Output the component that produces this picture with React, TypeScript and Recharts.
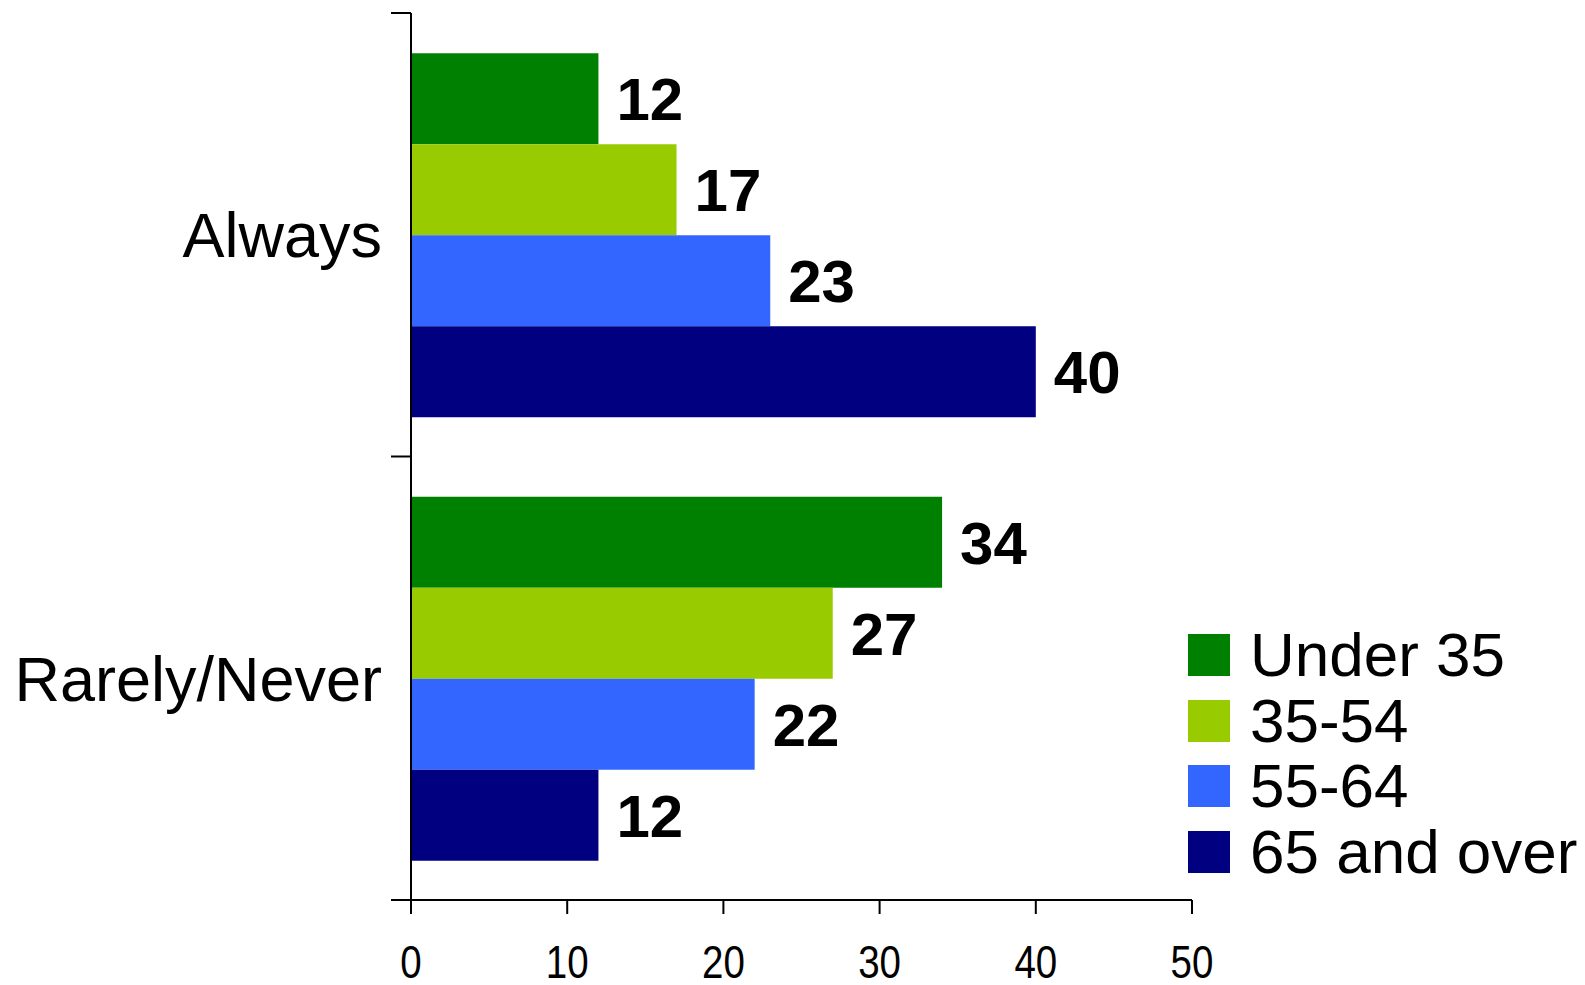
import React from "react";
import { BarChart, Bar, XAxis, YAxis, LabelList } from "recharts";

const categories = ["Always", "Rarely/Never"];
const under35 = [12, 34];
const age35to54 = [17, 27];
const age55to64 = [23, 22];
const age65plus = [40, 12];
const xTicks = [0, 10, 20, 30, 40, 50];

const seriesNames = ["Under 35", "35-54", "55-64", "65 and over"];
const seriesColors = ["#008000", "#99CC00", "#3366FF", "#000080"];
const seriesKeys = ["s0", "s1", "s2", "s3"];
const seriesValues = [under35, age35to54, age55to64, age65plus];

const data = categories.map((c, i) => {
  const row: Record<string, string | number> = { category: c };
  seriesKeys.forEach((k, j) => {
    row[k] = seriesValues[j][i];
  });
  return row;
});

const FONT = "'Liberation Sans', Arial, sans-serif";

const YTick = (props: any) => {
  const { x, y, payload, index, visibleTicksCount } = props;
  const half = payload && payload.offset ? payload.offset : 221.75;
  const isLast = index === (visibleTicksCount ? visibleTicksCount - 1 : categories.length - 1);
  return (
    <g>
      <line x1={x - 20} x2={x} y1={y - half} y2={y - half} stroke="#000" strokeWidth={2} />
      {isLast && <line x1={x - 20} x2={x} y1={y + half} y2={y + half} stroke="#000" strokeWidth={2} />}
      <text
        x={x - 29}
        y={y}
        dy="0.355em"
        textAnchor="end"
        fontFamily={FONT}
        fontSize={63}
        fill="#000"
      >
        {payload.value}
      </text>
    </g>
  );
};

const XTick = (props: any) => {
  const { x, y, payload } = props;
  return (
    <g transform={`translate(${x},${y}) scale(0.82,1)`}>
      <text x={0} y={0} dy="0.71em" textAnchor="middle" fontFamily={FONT} fontSize={47} fill="#000">
        {payload.value}
      </text>
    </g>
  );
};

const LegendBox = () => (
  <div style={{ position: "absolute", left: 1188, top: 622, display: "flex", flexDirection: "column" }}>
    {seriesNames.map((n, i) => (
      <div key={n} style={{ display: "flex", alignItems: "center", height: 65.7 }}>
        <div style={{ width: 42, height: 42, background: seriesColors[i], marginRight: 20 }} />
        <span style={{ fontFamily: FONT, fontSize: 62, lineHeight: "65.7px", color: "#000", whiteSpace: "nowrap" }}>
          {n}
        </span>
      </div>
    ))}
  </div>
);

export default function App() {
  return (
    <div style={{ position: "absolute", left: 0, top: 0, width: 1585, height: 985, background: "#fff" }}>
      <BarChart
        width={1585}
        height={985}
        data={data}
        layout="vertical"
        margin={{ top: 13, right: 393, bottom: 0, left: 0 }}
        barCategoryGap="9.1%"
        barGap={0}
      >
        <XAxis
          type="number"
          domain={[0, 50]}
          ticks={xTicks}
          height={85}
          axisLine={{ stroke: "#000", strokeWidth: 2 }}
          tickLine={{ stroke: "#000", strokeWidth: 2 }}
          tickSize={14}
          tickMargin={31}
          tick={<XTick />}
          interval={0}
        />
        <YAxis
          type="category"
          dataKey="category"
          width={411}
          axisLine={{ stroke: "#000", strokeWidth: 2 }}
          tickLine={false}
          tickSize={0}
          tickMargin={0}
          tick={<YTick />}
          interval={0}
        />
        {seriesKeys.map((k, i) => (
          <Bar key={k} dataKey={k} name={seriesNames[i]} fill={seriesColors[i]} isAnimationActive={false}>
            <LabelList
              dataKey={k}
              position="right"
              offset={18}
              fill="#000"
              fontFamily={FONT}
              fontWeight="bold"
              fontSize={60}
            />
          </Bar>
        ))}
      </BarChart>
      <LegendBox />
    </div>
  );
}
